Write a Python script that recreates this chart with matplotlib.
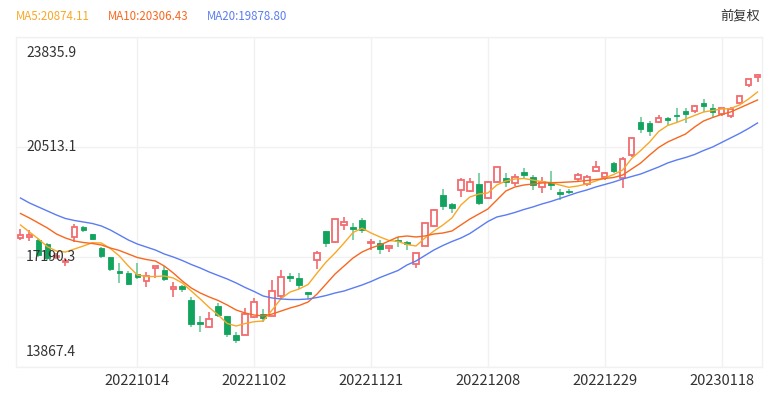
import matplotlib
matplotlib.use('Agg')
import matplotlib.pyplot as plt
import numpy as np

dates = ['20220926', '20220927', '20220928', '20220929', '20220930', '20221003', '20221005', '20221006',
         '20221007', '20221010', '20221011', '20221012', '20221013', '20221014', '20221017', '20221018',
         '20221019', '20221020', '20221021', '20221024', '20221025', '20221026', '20221027', '20221028',
         '20221031', '20221101', '20221102', '20221103', '20221104', '20221107', '20221108', '20221109',
         '20221110', '20221111', '20221114', '20221115', '20221116', '20221117', '20221118', '20221121',
         '20221122', '20221123', '20221124', '20221125', '20221128', '20221129', '20221130', '20221201',
         '20221202', '20221205', '20221206', '20221207', '20221208', '20221209', '20221212', '20221213',
         '20221214', '20221215', '20221216', '20221219', '20221220', '20221221', '20221222', '20221223',
         '20221228', '20221229', '20221230', '20230103', '20230104', '20230105', '20230106', '20230109',
         '20230110', '20230111', '20230112', '20230113', '20230116', '20230117', '20230118', '20230119',
         '20230120', '20230126', '20230127']

opens = [17779, 17809, 17704, 17583, 17180, 17040, 17785, 18100, 17876, 17453,
         17181, 16758, 16699, 16668, 16474, 16858, 16797, 16215, 16314, 15891,
         15217, 15067, 15710, 15408, 14834, 14834, 15387, 15459, 15408, 16012,
         16625, 16545, 16122, 17100, 17985, 17652, 18157, 18057, 18308, 17622,
         17622, 17453, 17673, 17652, 16979, 17531, 18127, 19063, 18791, 19214,
         19193, 19395, 18963, 19465, 19585, 19416, 19767, 19616, 19313, 19465,
         19154, 19193, 19537, 19395, 19788, 19616, 20038, 19565, 20271, 21277,
         21229, 21277, 21380, 21480, 21610, 21600, 21832, 21682, 21501, 21450,
         21832, 22386, 22618]
highs = [18036, 18000, 17725, 17613, 17300, 17170, 18178, 18135, 17890, 17492,
         17190, 17000, 16770, 16999, 16746, 16930, 16918, 16444, 16344, 15991,
         15408, 15538, 15810, 15408, 14934, 15640, 15942, 15610, 16495, 16798,
         16698, 16698, 16124, 17382, 17985, 18343, 18389, 18208, 18359, 17740,
         17716, 17553, 17785, 17674, 17320, 18208, 18631, 19235, 18812, 19567,
         19567, 19736, 19486, 19918, 19737, 19697, 19869, 19667, 19616, 19788,
         19259, 19235, 19718, 19667, 20081, 19768, 20069, 20202, 20824, 21410,
         21299, 21480, 21410, 21700, 21700, 21782, 21954, 21812, 21700, 21730,
         22053, 22567, 22718]
lows = [17704, 17659, 17181, 17100, 17130, 16920, 17652, 17955, 17700, 17175,
        16776, 16413, 16330, 16517, 16293, 16546, 16465, 15991, 16124, 15085,
        14934, 15037, 15387, 14765, 14583, 14834, 15338, 15236, 15408, 15942,
        16426, 16214, 15913, 16819, 17502, 17604, 18006, 17704, 17906, 17410,
        17281, 17351, 17502, 17402, 16849, 17531, 18105, 18610, 18510, 19012,
        19163, 18761, 18942, 19435, 19314, 19335, 19537, 19214, 19124, 19214,
        18897, 19084, 19495, 19335, 19768, 19516, 19737, 19284, 20202, 20945,
        20845, 21229, 21178, 21277, 21229, 21531, 21580, 21410, 21450, 21380,
        21832, 22316, 22485]
closes = [17855, 17860, 17251, 17166, 17223, 17080, 18088, 18012, 17740, 17217,
          16832, 16701, 16389, 16588, 16613, 16915, 16511, 16280, 16211, 15181,
          15166, 15318, 15428, 14863, 14687, 15455, 15827, 15339, 16161, 16596,
          16557, 16359, 16081, 17326, 17620, 18343, 18256, 18046, 17993, 17656,
          17424, 17524, 17661, 17574, 17298, 18205, 18597, 18736, 18675, 19518,
          19441, 18815, 19451, 19901, 19464, 19596, 19673, 19369, 19450, 19353,
          19095, 19160, 19679, 19593, 19899, 19741, 19781, 20145, 20793, 21052,
          20992, 21388, 21331, 21436, 21514, 21739, 21747, 21578, 21678, 21651,
          22044, 22567, 22689]

ma5 = [18157, 17946, 17734, 17501, 17371, 17341, 17432, 17523, 17622, 17613,
       17447, 17220, 16918, 16646, 16601, 16601, 16616, 16556, 16405, 16163,
       15922, 15665, 15438, 15181, 15106, 15181, 15236, 15257, 15589, 15937,
       16133, 16224, 16360, 16707, 17039, 17311, 17613, 17930, 18060, 17915,
       17795, 17689, 17659, 17568, 17523, 17764, 17975, 18157, 18368, 18761,
       19003, 19093, 19124, 19365, 19486, 19546, 19561, 19516, 19465, 19441,
       19365, 19296, 19335, 19395, 19486, 19577, 19682, 19818, 20166, 20407,
       20664, 20981, 21163, 21253, 21359, 21465, 21570, 21616, 21661, 21676,
       21782, 21963, 22174]
ma10 = [18504, 18368, 18217, 18066, 17885, 17764, 17674, 17628, 17598, 17553,
        17462, 17387, 17281, 17175, 17115, 17070, 16918, 16707, 16465, 16254,
        16103, 15982, 15876, 15740, 15589, 15498, 15438, 15408, 15468, 15559,
        15650, 15725, 15831, 16072, 16375, 16677, 16918, 17160, 17341, 17462,
        17553, 17674, 17795, 17825, 17795, 17825, 17885, 17915, 17976, 18157,
        18338, 18489, 18640, 18912, 19184, 19305, 19365, 19395, 19425, 19435,
        19441, 19456, 19471, 19501, 19531, 19561, 19592, 19667, 19848, 20029,
        20271, 20498, 20664, 20785, 20906, 21117, 21299, 21404, 21495, 21571,
        21691, 21812, 21933]
ma20 = [18972, 18822, 18701, 18580, 18459, 18353, 18293, 18248, 18202, 18127,
        18006, 17855, 17704, 17583, 17492, 17402, 17281, 17190, 17085, 16964,
        16858, 16737, 16631, 16526, 16405, 16269, 16148, 16012, 15952, 15922,
        15906, 15906, 15922, 15967, 16027, 16103, 16163, 16254, 16344, 16450,
        16571, 16677, 16782, 16949, 17069, 17236, 17402, 17538, 17658, 17764,
        17900, 18081, 18263, 18399, 18459, 18535, 18625, 18701, 18791, 18867,
        18957, 19048, 19139, 19214, 19305, 19380, 19456, 19546, 19622, 19697,
        19803, 19909, 20030, 20120, 20196, 20287, 20407, 20513, 20649, 20785,
        20921, 21072, 21238]

legend_labels = ['MA5:20874.11', 'MA10:20306.43', 'MA20:19878.80']
y_ticks = [13867.4, 17190.3, 20513.1, 23835.9]
tick_every = 13
right_label = '前复权'

RED = '#f26b6f'
GREEN = '#12a35e'
GREEN_WICK = '#6cc99a'
MA_COLORS = ['#f8a826', '#f7681f', '#5b7cf2']
GRID = '#f1f1f1'
TEXT = '#333333'

plt.rcParams['font.family'] = ['Noto Sans CJK SC', 'DejaVu Sans']

fig = plt.figure(figsize=(7.73, 3.95), dpi=100)
W, H = 773, 395
ax = fig.add_axes([16 / W, 28 / H, 746 / W, 330 / H])

o = np.array(opens, float)
h = np.array(highs, float)
l = np.array(lows, float)
c = np.array(closes, float)
x = np.arange(len(dates))
up = c >= o
ymin, ymax = y_ticks[0], y_ticks[-1]
min_body = (ymax - ymin) / 330 * 1.2

# wicks
ax.vlines(x[up], l[up], h[up], color=RED, lw=1.2, zorder=2)
ax.vlines(x[~up], l[~up], h[~up], color=GREEN_WICK, lw=1.2, zorder=2)
# bodies
bw = 0.62
ax.bar(x[up], np.maximum(c[up] - o[up], min_body), bottom=o[up], width=bw,
       facecolor='white', edgecolor=RED, linewidth=1.3, zorder=3)
ax.bar(x[~up], np.maximum(o[~up] - c[~up], min_body), bottom=c[~up], width=bw,
       facecolor=GREEN, edgecolor=GREEN, linewidth=0.6, zorder=3)

# MA lines
for series, col in zip([ma5, ma10, ma20], MA_COLORS):
    ax.plot(x, series, color=col, lw=1.0, zorder=4)

ax.set_xlim(-0.5, len(dates) - 0.5)
ax.set_ylim(ymin, ymax)

# grid
for yv in y_ticks:
    ax.axhline(yv, color=GRID, lw=1.0, zorder=0)
tick_idx = list(range(tick_every, len(dates), tick_every))
for xi in tick_idx:
    ax.axvline(xi, color=GRID, lw=1.0, zorder=0)
for s in ax.spines.values():
    s.set_color(GRID)
    s.set_linewidth(1.0)

ax.set_yticks([])
ax.set_xticks(tick_idx)
ax.set_xticklabels([dates[i] for i in tick_idx], fontsize=10.5, color=TEXT)
ax.tick_params(axis='x', length=0, pad=5)

# y labels inside the plot
offsets = [15, 0, 0, -16]
for yv, off in zip(y_ticks, offsets):
    ax.annotate(f'{yv:.1f}', xy=(0, yv), xycoords=ax.get_yaxis_transform(),
                xytext=(10, off), textcoords='offset pixels',
                ha='left', va='center', fontsize=10, color=TEXT, zorder=5)

# legend texts
leg_x = [16, 108, 207]
for txt, col, px in zip(legend_labels, MA_COLORS, leg_x):
    fig.text(px / W, 1 - 16 / H, txt, color=col, fontsize=8.3, ha='left', va='center')
fig.text(760 / W, 1 - 16 / H, right_label, color=TEXT, fontsize=9.5, ha='right', va='center')

fig.savefig('out.png', dpi=100, facecolor='white')
